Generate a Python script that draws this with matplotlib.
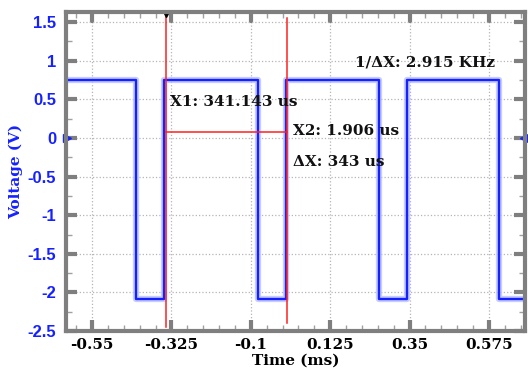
import matplotlib.pyplot as plt
from matplotlib.ticker import AutoMinorLocator, MultipleLocator

# scope trace: edge times (ms) and the level held after each one (V)
edge_times = [-0.624, -0.425, -0.345, -0.081, 0.000, 0.263, 0.344, 0.604, 0.677]
edge_levels = [0.75, -2.08, 0.75, -2.08, 0.75, -2.08, 0.75, -2.08, -2.08]

x_ticks = [-0.55, -0.325, -0.1, 0.125, 0.35, 0.575]
y_ticks = [-2.5, -2, -1.5, -1, -0.5, 0, 0.5, 1, 1.5]

# cursor readouts
x1_us = -341.143
x2_us = 1.906
cursor_level = 0.08

serif = 'DejaVu Serif'
grey = '#7f7f7f'
blue = '#1522ff'

fig = plt.figure(figsize=(5.28, 3.70), dpi=100)
ax = fig.add_axes([0.125, 0.105, 0.869, 0.863])

# persistence glow, then the live trace
ax.plot(edge_times, edge_levels, drawstyle='steps-post', color='#b4bcff', lw=4.5, alpha=0.75)
ax.plot(edge_times, edge_levels, drawstyle='steps-post', color=blue, lw=1.7)

x1 = x1_us / 1000
x2 = x2_us / 1000
ax.axvline(x1, ymin=0.013, ymax=1.0, color='#ff2020', lw=1.1)
ax.axvline(x2, ymin=0.025, ymax=0.98, color='#ff2020', lw=1.1)
ax.plot([x1, x2], [cursor_level, cursor_level], color='#ff2020', lw=1.1)
ax.plot([x1], [1.6], marker='v', color='black', ms=5, clip_on=False)

# ground markers on both sides
ax.plot([-0.622], [0], marker='>', color=blue, ms=6, clip_on=False)
ax.plot([0.675], [0], marker='<', color=blue, ms=6, clip_on=False)

dx = x2_us - x1_us
txt = dict(family=serif, fontweight='bold', fontsize=11, color='#111111', va='center')
ax.text(-0.329, 0.46, f'X1: {abs(x1_us):.3f} us', **txt)
ax.text(0.020, 0.09, f'X2: {x2_us:.3f} us', **txt)
ax.text(0.020, -0.31, f'ΔX: {dx:.0f} us', **txt)
ax.text(0.196, 0.97, f'1/ΔX: {1000 / dx:.3f} KHz', **txt)

ax.set_xlim(-0.624, 0.677)
ax.set_ylim(-2.5, 1.63)
ax.set_xticks(x_ticks)
ax.set_xticklabels([f'{t:g}' for t in x_ticks], family=serif, fontweight='bold', fontsize=11)
ax.set_yticks(y_ticks)
ax.set_yticklabels([f'{t:g}' for t in y_ticks], family='Liberation Sans', fontweight='bold',
                   fontsize=12, color=blue)
ax.xaxis.set_minor_locator(AutoMinorLocator(5))
ax.yaxis.set_minor_locator(MultipleLocator(0.25))

ax.tick_params(which='major', direction='in', length=8, width=3, color=grey,
               top=True, right=True, pad=7)
ax.tick_params(axis='x', which='major', pad=5)
ax.tick_params(which='minor', direction='in', length=4, width=1, color='#a0a0a0',
               top=True, right=True)
for s in ax.spines.values():
    s.set_color(grey)
    s.set_linewidth(3)

ax.grid(True, which='major', ls=':', color='#b5b5b5', lw=0.9)

ax.set_xlabel('Time (ms)', family=serif, fontweight='bold', fontsize=11, labelpad=1)
ax.set_ylabel('Voltage (V)', family=serif, fontweight='bold', fontsize=11, color=blue,
              labelpad=3)

fig.savefig('out.png', dpi=100)
